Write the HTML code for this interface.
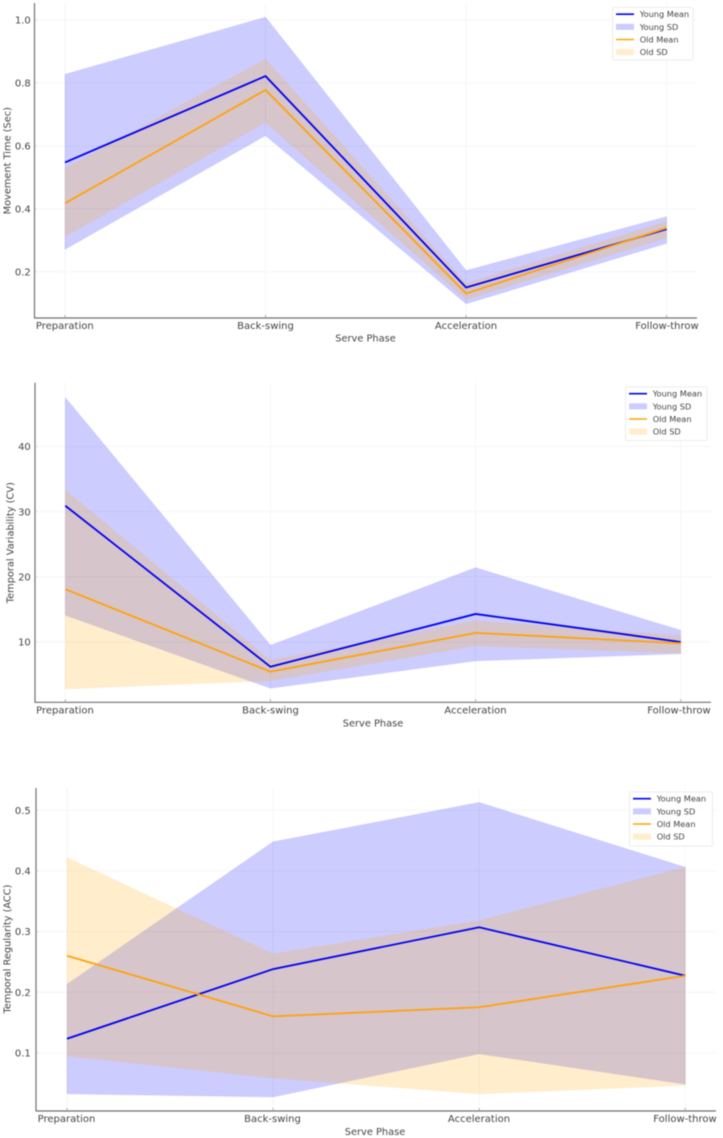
<!DOCTYPE html>
<html lang="en">
<head>
<meta charset="utf-8">
<title>Serve Phase Charts</title>
<style>
  html, body { margin: 0; padding: 0; background: #ffffff; }
  body { width: 723px; height: 1138px; overflow: hidden; }
  svg { display: block; filter: blur(0.4px); }
  text { font-family: "DejaVu Sans", "Liberation Sans", sans-serif; fill: #444444; }
</style>
</head>
<body>
<svg id="root" xmlns="http://www.w3.org/2000/svg" width="723" height="1138" viewBox="0 0 723 1138"></svg>
<script>
// ---- shared labels ----
const categories = ["Preparation", "Back-swing", "Acceleration", "Follow-throw"];
const legendLabels = ["Young Mean", "Young SD", "Old Mean", "Old SD"];

// ---- Movement Time ----
const timeTicks = [0.2, 0.4, 0.6, 0.8, 1.0];
const timeTickLabels = ["0.2", "0.4", "0.6", "0.8", "1.0"];
const timeYoungMean = [0.547, 0.821, 0.150, 0.335];
const timeYoungUpper = [0.827, 1.008, 0.204, 0.375];
const timeYoungLower = [0.271, 0.632, 0.098, 0.290];
const timeOldMean = [0.417, 0.777, 0.131, 0.339];
const timeOldUpper = [0.528, 0.875, 0.164, 0.359];
const timeOldLower = [0.311, 0.674, 0.112, 0.307];

// ---- Temporal Variability ----
const cvTicks = [10, 20, 30, 40];
const cvTickLabels = ["10", "20", "30", "40"];
const cvYoungMean = [30.9, 6.2, 14.3, 10.0];
const cvYoungUpper = [47.5, 9.5, 21.4, 11.8];
const cvYoungLower = [14.1, 2.9, 7.1, 8.2];
const cvOldMean = [18.1, 5.45, 11.4, 9.8];
const cvOldUpper = [33.3, 7.2, 13.3, 11.0];
const cvOldLower = [2.8, 4.05, 9.4, 8.3];

// ---- Temporal Regularity ----
const accTicks = [0.1, 0.2, 0.3, 0.4, 0.5];
const accTickLabels = ["0.1", "0.2", "0.3", "0.4", "0.5"];
const accYoungMean = [0.123, 0.238, 0.307, 0.227];
const accYoungUpper = [0.213, 0.448, 0.513, 0.406];
const accYoungLower = [0.032, 0.027, 0.098, 0.048];
const accOldMean = [0.260, 0.160, 0.175, 0.227];
const accOldUpper = [0.422, 0.263, 0.318, 0.406];
const accOldLower = [0.0945, 0.058, 0.032, 0.046];

const root = document.getElementById('root');
const NS = 'http://www.w3.org/2000/svg';

function make(tag, parent, props, content) {
  const el = document.createElementNS(NS, tag);
  for (const k in props) el.setAttribute(k, props[k]);
  if (content !== undefined) el.textContent = content;
  parent.appendChild(el);
  return el;
}

function drawPanel(cfg) {
  const xOf = i => cfg.xStart + i * cfg.xStep;
  const yOf = v => cfg.yRefPx - (v - cfg.yRefVal) * cfg.yScale;

  const g = make('g', root, {});
  
  

  // gridlines
  cfg.ticks.forEach((t) => {
    const line = make('line', g, { x1: cfg.left, x2: cfg.right, y1: yOf(t), y2: yOf(t), stroke: '#f6f6f6', 'stroke-width': 1 });
    
    
  });
  categories.forEach((c, i) => {
    const line = make('line', g, { x1: xOf(i), x2: xOf(i), y1: cfg.top, y2: cfg.bottom, stroke: '#f6f6f6', 'stroke-width': 1 });
    
    
  });

  // bands
  function band(upper, lower, fill, name) {
    const up = upper.map((v, i) => xOf(i) + ',' + yOf(v));
    const low = lower.map((v, i) => xOf(i) + ',' + yOf(v)).reverse();
    const poly = make('polygon', g, { points: up.concat(low).join(' '), fill: fill, 'fill-opacity': 0.2, stroke: fill, 'stroke-opacity': 0.06, 'stroke-width': 1 });
    
    
  }
  band(cfg.youngUpper, cfg.youngLower, '#0000ff', 'young-sd-band');
  band(cfg.oldUpper, cfg.oldLower, '#ffa500', 'old-sd-band');

  // mean lines
  function meanLine(values, color, name) {
    const pts = values.map((v, i) => xOf(i) + ',' + yOf(v)).join(' ');
    const line = make('polyline', g, { points: pts, fill: 'none', stroke: color, 'stroke-width': 1.8, 'stroke-linejoin': 'miter' });
    
    
  }
  meanLine(cfg.youngMean, '#0000f0', 'young-mean-line');
  meanLine(cfg.oldMean, '#ffa20a', 'old-mean-line');

  // axes
  const yAxis = make('line', g, { x1: cfg.left, x2: cfg.left, y1: cfg.top, y2: cfg.bottom + 0.5, stroke: '#707070', 'stroke-width': 1.2 });
  
  
  const xAxis = make('line', g, { x1: cfg.left, x2: cfg.right, y1: cfg.bottom, y2: cfg.bottom, stroke: '#707070', 'stroke-width': 1.2 });
  
  

  // x ticks + labels
  categories.forEach((c, i) => {
    const tick = make('line', g, { x1: xOf(i), x2: xOf(i), y1: cfg.bottom - 3, y2: cfg.bottom, stroke: '#999999', 'stroke-width': 0.8 });
    
    
    const label = make('text', g, { x: cfg.labelX(i), y: cfg.bottom + 11, 'text-anchor': 'middle', 'font-size': 10 }, c);
    
    
  });

  // y ticks + labels
  cfg.ticks.forEach((t, i) => {
    const tick = make('line', g, { x1: cfg.left, x2: cfg.left + 2, y1: yOf(t), y2: yOf(t), stroke: '#bbbbbb', 'stroke-width': 0.8 });
    
    
    const label = make('text', g, { x: 30.8, y: yOf(t) + 3.7, 'text-anchor': 'end', 'font-size': 10 }, cfg.tickLabels[i]);
    
    
  });

  // axis titles
  const xTitle = make('text', g, { x: cfg.xTitleX, y: cfg.xTitleY, 'text-anchor': 'middle', 'font-size': 9.8 }, 'Serve Phase');
  
  
  const yTitle = make('text', g, { x: 0, y: 0, 'text-anchor': 'middle', 'font-size': 9.8, transform: 'translate(' + cfg.yTitleX + ' ' + cfg.yTitleY + ') rotate(-90)' }, cfg.yTitle);
  
  

  // legend
  const lg = make('g', g, {});
  
  
  const box = make('rect', lg, { x: cfg.legX, y: cfg.legY, width: cfg.legW, height: cfg.legH, rx: 1.5, fill: '#ffffff', 'fill-opacity': 0.85, stroke: '#e8e8e8', 'stroke-width': 0.8 });
  
  
  const hx = cfg.legX + 3.5, hw = 18, tx = cfg.legX + 27.2;
  const rowY = r => cfg.legY + 6.7 + r * 12.65;
  const h0 = make('line', lg, { x1: hx, x2: hx + hw, y1: rowY(0), y2: rowY(0), stroke: '#0000f0', 'stroke-width': 1.6 });
  
  
  const h1 = make('rect', lg, { x: hx, y: rowY(1) - 3, width: hw, height: 6, fill: '#0000ff', 'fill-opacity': 0.2 });
  
  
  const h2 = make('line', lg, { x1: hx, x2: hx + hw, y1: rowY(2), y2: rowY(2), stroke: '#ffa20a', 'stroke-width': 1.4 });
  
  
  const h3 = make('rect', lg, { x: hx, y: rowY(3) - 3, width: hw, height: 6, fill: '#ffa500', 'fill-opacity': 0.2 });
  
  
  legendLabels.forEach((t, r) => {
    const lab = make('text', lg, { x: tx, y: rowY(r) + 3, 'font-size': 8.2, fill: '#4a4a4a' }, t);
    
    
  });
}

drawPanel({
  name: 'movement-time',
  xStart: 65, xStep: 200.55, left: 34.5, right: 697, top: 3, bottom: 318,
  yRefVal: 1.0, yRefPx: 19.7, yScale: 315,
  ticks: timeTicks, tickLabels: timeTickLabels,
  youngMean: timeYoungMean, youngUpper: timeYoungUpper, youngLower: timeYoungLower,
  oldMean: timeOldMean, oldUpper: timeOldUpper, oldLower: timeOldLower,
  labelX: i => [64.8, 265.5, 466, 667][i],
  xTitleX: 365.5, xTitleY: 341.5, yTitle: 'Movement Time (Sec)', yTitleX: 10.4, yTitleY: 160.7,
  legX: 612.5, legY: 7.5, legW: 80.5, legH: 52.5
});

drawPanel({
  name: 'temporal-variability',
  xStart: 65.3, xStep: 205.15, left: 35, right: 711, top: 382.7, bottom: 702.3,
  yRefVal: 10, yRefPx: 642, yScale: 6.52,
  ticks: cvTicks, tickLabels: cvTickLabels,
  youngMean: cvYoungMean, youngUpper: cvYoungUpper, youngLower: cvYoungLower,
  oldMean: cvOldMean, oldUpper: cvOldUpper, oldLower: cvOldLower,
  labelX: i => [65, 270.5, 475.5, 679][i],
  xTitleX: 373, xTitleY: 726.5, yTitle: 'Temporal Variability (CV)', yTitleX: 13.7, yTitleY: 542.7,
  legX: 625.5, legY: 387, legW: 81.5, legH: 53.5
});

drawPanel({
  name: 'temporal-regularity',
  xStart: 67, xStep: 206.1, left: 36, right: 716, top: 788, bottom: 1111,
  yRefVal: 0.1, yRefPx: 1052.7, yScale: 606,
  ticks: accTicks, tickLabels: accTickLabels,
  youngMean: accYoungMean, youngUpper: accYoungUpper, youngLower: accYoungLower,
  oldMean: accOldMean, oldUpper: accOldUpper, oldLower: accOldLower,
  labelX: i => [66.5, 272.5, 479, 685][i],
  xTitleX: 375, xTitleY: 1135, yTitle: 'Temporal Regularity (ACC)', yTitleX: 10.7, yTitleY: 949,
  legX: 629.5, legY: 792, legW: 83, legH: 54
});
</script>
</body>
</html>
